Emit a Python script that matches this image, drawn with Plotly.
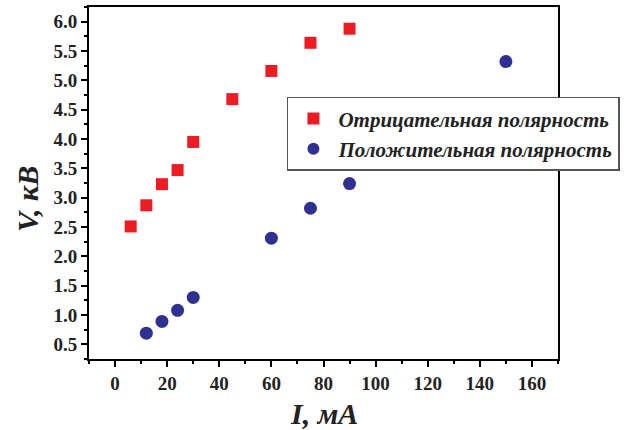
import plotly.graph_objects as go

neg_I = [6, 12, 18, 24, 30, 45, 60, 75, 90]
neg_V = [2.51, 2.87, 3.23, 3.47, 3.95, 4.68, 5.16, 5.64, 5.88]
pos_I = [12, 18, 24, 30, 60, 75, 90, 150]
pos_V = [0.69, 0.89, 1.08, 1.30, 2.31, 2.82, 3.24, 5.32]

font_fam = "Liberation Serif, Times New Roman, serif"

fig = go.Figure()
fig.add_trace(go.Scatter(x=neg_I, y=neg_V, mode="markers", name="<b><i>Отрицательная полярность</i></b>",
                         marker=dict(symbol="square", size=12, color="#ED1C24")))
fig.add_trace(go.Scatter(x=pos_I, y=pos_V, mode="markers", name="<b><i>Положительная полярность</i></b>",
                         marker=dict(symbol="circle", size=13, color="#2E3192")))

axis_common = dict(showline=True, linecolor="black", linewidth=2, mirror=True,
                   ticks="outside", ticklen=6, tickwidth=1.5, tickcolor="black",
                   showgrid=False, zeroline=False, automargin=False,
                   tickfont=dict(family=font_fam, size=19, color="#222", weight="bold"))

fig.update_xaxes(range=[-10, 170], dtick=20, tick0=0,
                 minor=dict(ticks="outside", ticklen=3, dtick=10, tick0=0, tickcolor="black"),
                 **axis_common)
fig.update_yaxes(range=[0.25, 6.25], dtick=0.5, tick0=0.5, tickformat=".1f",
                 minor=dict(ticks="outside", ticklen=3, dtick=0.25, tick0=0.25, tickcolor="black"),
                 **axis_common)

fig.add_annotation(text="<b><i>I, мА</i></b>", xref="paper", yref="paper",
                   x=0.502, y=-0.155, showarrow=False, xanchor="center", yanchor="middle",
                   font=dict(family=font_fam, size=30, color="#222"))
fig.add_annotation(text="<b><i>V, кВ</i></b>", xref="paper", yref="paper",
                   x=-0.131, y=0.453, showarrow=False, xanchor="center", yanchor="middle",
                   textangle=-90, font=dict(family=font_fam, size=30, color="#222"))

fig.update_layout(
    width=627, height=430,
    margin=dict(l=89, r=64, t=7, b=71),
    plot_bgcolor="white", paper_bgcolor="white",
    font=dict(family=font_fam),
    legend=dict(x=0.422, y=0.745, xanchor="left", yanchor="top",
                bgcolor="white", bordercolor="#555", borderwidth=1.5,
                font=dict(family=font_fam, size=21, color="#222", weight="bold"),
                itemsizing="constant", itemwidth=40, tracegroupgap=0),
    showlegend=True,
)

fig.write_html("out.html", config={"displayModeBar": False},
               post_script="document.body.style.margin='0';document.body.style.overflow='hidden';")
